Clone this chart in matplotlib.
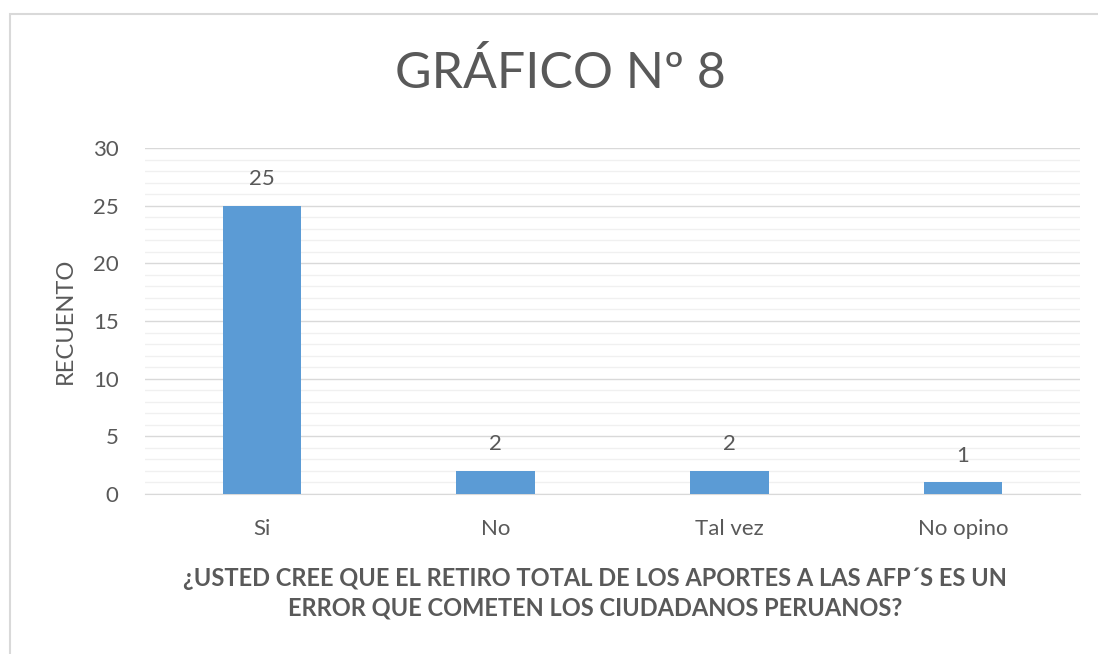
import matplotlib.pyplot as plt
from matplotlib.patches import Rectangle

# Data
categorias = ['Si', 'No', 'Tal vez', 'No opino']
recuento = [25, 2, 2, 1]

titulo = 'GRÁFICO Nº 8'
etiqueta_x = '¿USTED CREE QUE EL RETIRO TOTAL DE LOS APORTES A LAS AFP´S ES UN\nERROR QUE COMETEN LOS CIUDADANOS PERUANOS?'
etiqueta_y = 'RECUENTO'

gris = '#595959'
azul = '#5B9BD5'

plt.rcParams['font.family'] = ['Lato', 'DejaVu Sans']

fig = plt.figure(figsize=(10.98, 6.54), dpi=100)
fig.patch.set_facecolor('white')

# chart area border (partly off the image)
fig.patches.append(Rectangle((10 / 1098, -0.1), 1.2, 1 - 14 / 654 + 0.1,
                             transform=fig.transFigure, fill=False,
                             edgecolor='#D9D9D9', lw=1.5))

ax = fig.add_axes([145 / 1098, 1 - 494 / 654, 935 / 1098, 346 / 654])

x = range(len(categorias))
bars = ax.bar(x, recuento, width=0.335, color=azul, zorder=3)
for b, v in zip(bars, recuento):
    ax.annotate(str(v), (b.get_x() + b.get_width() / 2, v), xytext=(0, 12),
                textcoords='offset points', ha='center', va='bottom',
                fontsize=16, color=gris)

ax.set_xlim(-0.5, len(categorias) - 0.5)
ax.set_ylim(0, 30)
ax.set_yticks(range(0, 31, 5))
ax.set_yticks(range(0, 31, 1), minor=True)
ax.set_xticks(list(x))
ax.set_xticklabels(categorias)

ax.grid(axis='y', which='major', color='#D9D9D9', lw=1, zorder=0)
ax.grid(axis='y', which='minor', color='#F0F0F0', lw=1, zorder=0)
for s in ['top', 'right', 'left']:
    ax.spines[s].set_visible(False)
ax.spines['bottom'].set_color('#D9D9D9')
ax.tick_params(axis='both', which='both', length=0, labelsize=16, colors=gris)
ax.tick_params(axis='x', pad=18)
ax.tick_params(axis='y', pad=19)

ax.set_ylabel(etiqueta_y, fontsize=17, color=gris, labelpad=12)
ax.set_xlabel(etiqueta_x, fontsize=17, color=gris, fontweight='bold',
              linespacing=1.35)
ax.xaxis.set_label_coords(0.481, -0.21)
ax.xaxis.label.set_va('top')

fig.text(560 / 1098, 1 - 73 / 654, titulo, ha='center', va='center',
         fontsize=36, color=gris, fontweight='normal')

fig.savefig('out.png', dpi=100, facecolor='white')
